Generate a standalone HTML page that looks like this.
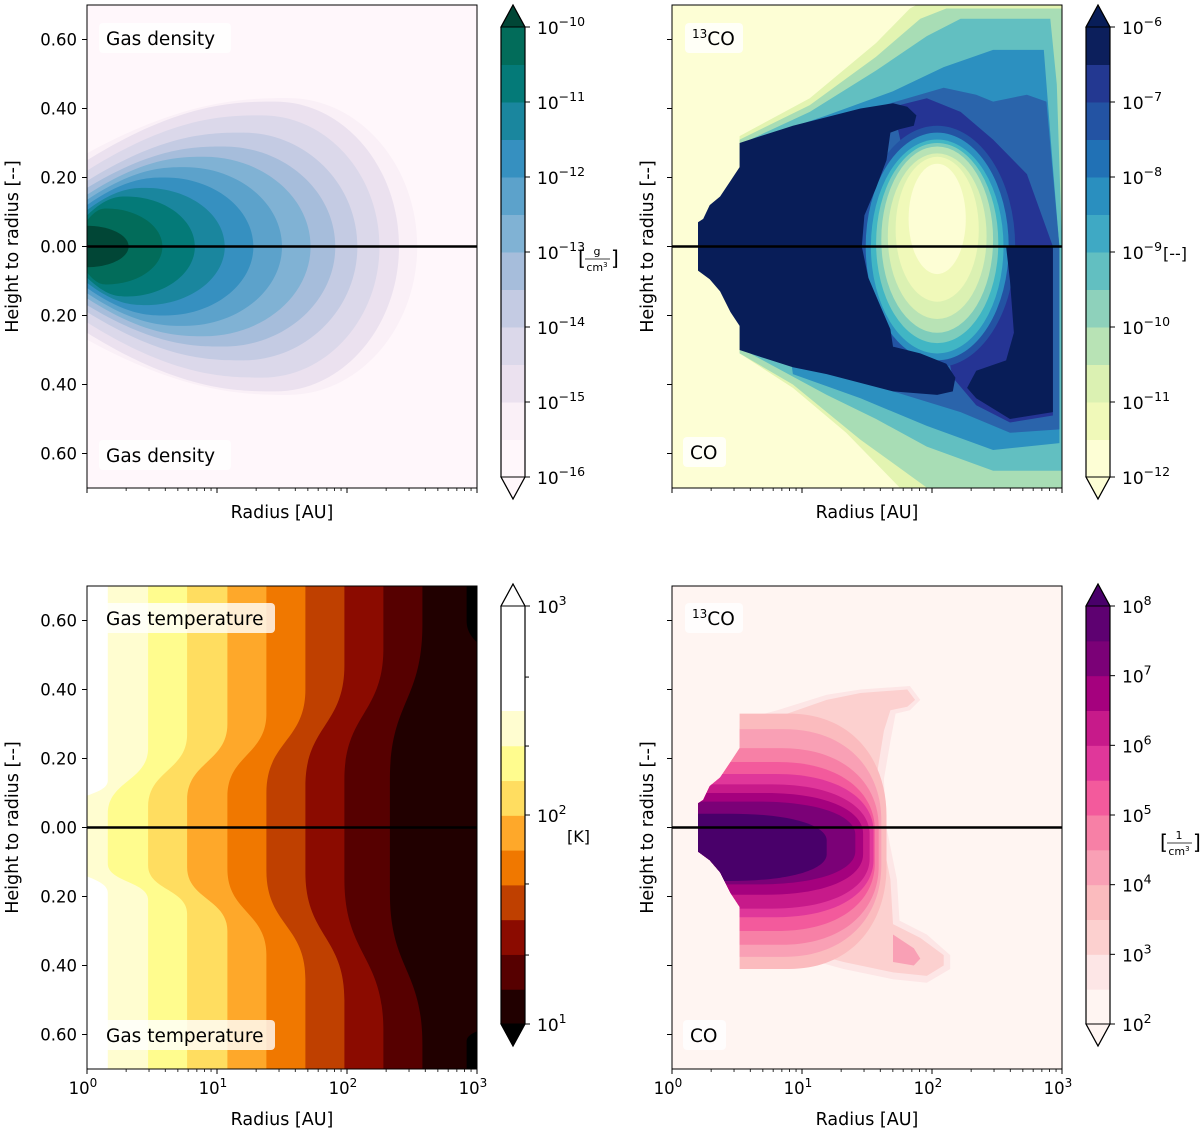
<!DOCTYPE html>
<html><head><meta charset="utf-8">
<style>
html,body{margin:0;padding:0;background:#fff;}
svg{display:block;font-family:"DejaVu Sans","Liberation Sans",sans-serif;}
</style></head>
<body>
<svg id="chart" width="1200" height="1132" viewBox="0 0 1200 1132" xmlns="http://www.w3.org/2000/svg"></svg>
<script>
// ---------- data ----------
const densTip   = [2.54,2.40,2.25,2.08,1.91,1.72,1.50,1.28,1.06,0.83,0.58,0.32];
const densHMax  = [0.43,0.42,0.38,0.33,0.29,0.26,0.23,0.20,0.17,0.145,0.11,0.06];
const densHLeft = [0.27,0.25,0.22,0.19,0.17,0.15,0.135,0.12,0.105,0.09,0.075,0.06];
const densRMax  = [1.55,1.45,1.35,1.20,1.05,0.90,0.75,0.60,0.45,0.30,0.15,0.0];
const densColors = ['#faf0f7','#ebe1ef','#dbd8ea','#c4cbe3','#a6bddb','#80b2d4','#5ca2cb','#3690c0','#1a869e','#047a78','#026c5a','#014636'];
const densCbar = ['#fff7fb','#faf0f7','#ebe1ef','#dbd8ea','#c4cbe3','#a6bddb','#80b2d4','#5ca2cb','#3690c0','#1a869e','#047a78','#026c5a'];
const densTicks = [-16,-15,-14,-13,-12,-11,-10];

const tempTop = [0.16,0.47,0.77,1.08,1.38,1.68,1.98,2.28,2.58,2.92];
const tempMid = [-0.15,0.16,0.47,0.77,1.08,1.38,1.68,1.98,2.33,3.15];
const tempHsTop = [0.136,0.23,0.27,0.30,0.33,0.40,0.47,0.52,0.59,0.60];
const tempHeTop = [0.05,0.04,0.06,0.08,0.09,0.10,0.12,0.14,0.14,0.45];
const tempHsBot = [-0.095,-0.105,-0.11,-0.115,-0.12,-0.125,-0.13,-0.15,-0.19,-0.55];
const tempHeBot = [-0.19,-0.21,-0.25,-0.30,-0.37,-0.44,-0.50,-0.59,-0.63,-0.62];
const tempColors = ['#ffffff','#fffdd0','#fffc8e','#ffdd60','#fea82a','#f07800','#bf4000','#8b0b00','#560000','#210000','#000000'];
const tempTicks = [1,2,3];
const tempMinor = [1.33,1.67,2.33,2.66];

const coShellA = [[0.52,0.32],[1.06,0.43],[1.57,0.59],[1.83,0.69],[1.93,0.71],[3.0,0.71],[3.0,-0.71],[1.78,-0.71],[1.34,-0.54],[0.93,-0.41],[0.52,-0.31]];
const coShellB = [[0.52,0.31],[1.06,0.41],[1.57,0.55],[1.91,0.66],[2.11,0.69],[3.0,0.69],[3.0,-0.71],[2.0,-0.71],[1.45,-0.56],[0.93,-0.40],[0.52,-0.31]];
const coShellC = [[0.60,0.31],[1.06,0.39],[1.57,0.51],[1.96,0.61],[2.22,0.66],[2.91,0.66],[2.96,0.47],[3.0,0],[3.0,-0.65],[2.47,-0.65],[1.96,-0.58],[1.57,-0.50],[1.19,-0.43],[0.60,-0.31]];
const coShellD = [[0.68,0.315],[1.19,0.38],[1.70,0.45],[2.09,0.52],[2.47,0.57],[2.86,0.57],[2.93,0.23],[2.98,0],[2.98,-0.57],[2.47,-0.59],[1.96,-0.52],[1.45,-0.44],[0.93,-0.37]];
const coShellE = [[1.45,0.39],[2.09,0.46],[2.34,0.44],[2.47,0.42],[2.73,0.44],[2.88,0.42],[2.98,0],[2.98,-0.53],[2.60,-0.54],[2.22,-0.48],[1.70,-0.42]];
const coShellF = [[1.70,0.405],[1.96,0.43],[2.22,0.39],[2.47,0.31],[2.73,0.21],[2.93,0],[2.93,-0.49],[2.60,-0.51],[2.34,-0.46],[2.16,-0.38]];
const coShellColors = ['#e3f4b1','#a8ddb5','#62bfc1','#2c90c0','#2a64ab','#253494'];
const coHoleR  = [0.60,0.55,0.51,0.47,0.43,0.38,0.32,0.22];
const coHoleH  = [0.35,0.33,0.31,0.29,0.27,0.24,0.21,0.16];
const coHoleC  = [0.0,0.0,0.0,0.01,0.02,0.03,0.05,0.08];
const coHoleColors = ['#2353a3','#2c90c0','#41b6c4','#7fcdbb','#b8e3b5','#dbf1b2','#f0f9b9','#fdfed5'];
const coCore = [[0.20,0.07],[0.24,0.08],[0.29,0.12],[0.37,0.145],[0.45,0.19],[0.52,0.23],[0.52,0.30],[0.68,0.32],[0.93,0.35],[1.19,0.375],[1.45,0.40],[1.70,0.415],[1.81,0.405],[1.88,0.38],[1.86,0.35],[1.75,0.34],[1.68,0.33],[1.65,0.25],[1.57,0.17],[1.48,0.09],[1.46,0],[1.51,-0.09],[1.60,-0.17],[1.68,-0.24],[1.70,-0.29],[1.91,-0.31],[2.11,-0.34],[2.18,-0.38],[2.16,-0.42],[2.04,-0.43],[1.70,-0.42],[1.19,-0.37],[0.93,-0.35],[0.68,-0.32],[0.52,-0.30],[0.52,-0.23],[0.45,-0.19],[0.37,-0.13],[0.29,-0.095],[0.20,-0.07]];
const coRightCore = [[2.57,0],[2.93,0],[2.93,-0.48],[2.60,-0.50],[2.34,-0.44],[2.27,-0.41],[2.34,-0.36],[2.57,-0.33],[2.63,-0.25],[2.60,-0.10]];
const coCbar = ['#fdfed5','#f0f9b9','#dbf1b2','#b8e3b5','#8ed1bb','#62bfc1','#3fa9c4','#2a8fbf','#2171b5','#2353a3','#233891','#0c1f5c'];
const coTicks = [-12,-11,-10,-9,-8,-7,-6];

const ndPale2 = [[0.52,0.31],[0.81,0.34],[1.19,0.385],[1.45,0.40],[1.83,0.41],[1.91,0.37],[1.83,0.34],[1.72,0.33],[1.68,0.25],[1.63,0.14],[1.65,0],[1.73,-0.15],[1.75,-0.27],[1.96,-0.31],[2.14,-0.37],[2.14,-0.41],[1.96,-0.45],[1.70,-0.44],[1.32,-0.41],[0.93,-0.37],[0.52,-0.31]];
const ndPale3 = [[0.52,0.29],[0.81,0.32],[1.19,0.37],[1.45,0.39],[1.81,0.40],[1.87,0.37],[1.81,0.35],[1.68,0.34],[1.63,0.28],[1.57,0.14],[1.60,0],[1.68,-0.15],[1.70,-0.28],[1.91,-0.32],[2.09,-0.37],[2.09,-0.40],[1.96,-0.43],[1.70,-0.42],[1.32,-0.39],[0.93,-0.35],[0.52,-0.30]];
const ndTail = [[1.70,-0.31],[1.86,-0.35],[1.91,-0.38],[1.86,-0.40],[1.70,-0.39]];
const ndTop   = [0.33,0.285,0.23,0.19,0.155,0.125,0.10,0.075,0.04];
const ndBot   = [-0.41,-0.375,-0.34,-0.30,-0.26,-0.235,-0.195,-0.165,-0.155];
const ndRight = [1.65,1.61,1.59,1.56,1.55,1.52,1.47,1.41,1.19];
const ndColors = ['#fbbbbe','#f9a0b5','#f780a6','#f35a9c','#e0379a','#c71a8a','#a5017e','#7b0177','#49006a'];
const ndClip = [[0.20,0.07],[0.24,0.08],[0.29,0.12],[0.37,0.145],[0.45,0.19],[0.52,0.23],[0.52,0.71],[3,0.71],[3,-0.71],[0.52,-0.71],[0.52,-0.23],[0.45,-0.19],[0.37,-0.13],[0.29,-0.095],[0.20,-0.07]];
const ndCbar = ['#fff5f2','#fde6e6','#fcd0cf','#fbbbbe','#f9a0b5','#f780a6','#f35a9c','#e0379a','#c71a8a','#a5017e','#7b0177','#5e0171'];
const ndTicks = [2,3,4,5,6,7,8];

const yTickVals = [0.6,0.4,0.2,0,-0.2,-0.4,-0.6];
const xTickVals = [0,1,2,3];

// ---------- helpers ----------
const NS='http://www.w3.org/2000/svg';
const svg=document.getElementById('chart');
function mk(tag,attrs,parent){const e=document.createElementNS(NS,tag);for(const k in attrs)e.setAttribute(k,attrs[k]);(parent||svg).appendChild(e);return e;}
function panel(x0,top,bottom){const mid=(top+bottom)/2;const ppu=(bottom-top)/1.4;return {x0,top,bottom,mid,sx:r=>x0+r*130,sy:h=>mid-h*ppu,ppu};}
function polyPath(P,pts){return 'M'+pts.map(p=>P.sx(p[0]).toFixed(1)+','+P.sy(p[1]).toFixed(1)).join('L')+'Z';}

const PTL=panel(87,5,488), PTR=panel(672,5,488), PBL=panel(87,586,1069), PBR=panel(672,586,1069);
let clipN=0;
function group(P,name){
  const id='clip'+(clipN++);
  const cp=mk('clipPath',{id});
  mk('rect',{x:P.x0,y:P.top,width:390,height:P.bottom-P.top},cp);
  const g=mk('g',{'clip-path':'url(#'+id+')'});
  
  
  return g;
}

// ---------- density panel ----------
(function(){
  const P=PTL;const g=group(P,'gas-density-plot');
  const bg=mk('rect',{x:P.x0,y:P.top,width:390,height:P.bottom-P.top,fill:'#fff7fb'},g);
  
  
  densTip.forEach((tip,i)=>{
    const x0=P.sx(0),xm=P.sx(densRMax[i]),xt=P.sx(tip);
    const yT=P.sy(densHMax[i]),yL=P.sy(densHLeft[i]),y0=P.sy(0),yB=P.sy(-densHMax[i]),yLB=P.sy(-densHLeft[i]);
    const d=`M${x0-5},${yL} L${x0},${yL} C${x0+(xm-x0)*0.5},${yT} ${xm-(xm-x0)*0.2},${yT} ${xm},${yT} C${xm+(xt-xm)*0.55},${yT} ${xt},${y0-(y0-yT)*0.55} ${xt},${y0} C${xt},${y0+(yB-y0)*0.55} ${xm+(xt-xm)*0.55},${yB} ${xm},${yB} C${xm-(xm-x0)*0.2},${yB} ${x0+(xm-x0)*0.5},${yB} ${x0},${yLB} L${x0-5},${yLB}Z`;
    const p=mk('path',{d,fill:densColors[i]},g);
    
    
  });
})();

// ---------- temperature panel ----------
(function(){
  const P=PBL;const g=group(P,'gas-temperature-plot');
  const bg=mk('rect',{x:P.x0,y:P.top,width:390,height:P.bottom-P.top,fill:tempColors[0]},g);
  
  
  tempTop.forEach((rt,k)=>{
    const xt=P.sx(rt),xm=P.sx(tempMid[k]);
    const a=P.sy(0.75),b=P.sy(tempHsTop[k]),c=P.sy(tempHeTop[k]),d1=P.sy(tempHsBot[k]),e=P.sy(tempHeBot[k]),f=P.sy(-0.75);
    const mt=(b+c)/2, mb=(d1+e)/2;
    const d=`M${xt},${a} L${xt},${b} C${xt},${mt} ${xm},${mt} ${xm},${c} L${xm},${d1} C${xm},${mb} ${xt},${mb} ${xt},${e} L${xt},${f} L600,${f} L600,${a}Z`;
    const p=mk('path',{d,fill:tempColors[k+1]},g);
    
    
  });
})();

// ---------- CO abundance panel ----------
(function(){
  const P=PTR;const g=group(P,'co-abundance-plot');
  const bg=mk('rect',{x:P.x0,y:P.top,width:390,height:P.bottom-P.top,fill:'#fdfed5'},g);
  
  
  [coShellA,coShellB,coShellC,coShellD,coShellE,coShellF].forEach((s,i)=>{
    const p=mk('path',{d:polyPath(P,s),fill:coShellColors[i],'stroke-linejoin':'round'},g);
    
    
  });
  coHoleR.forEach((rr,i)=>{
    const e=mk('ellipse',{cx:P.sx(2.04),cy:P.sy(coHoleC[i]),rx:rr*130,ry:coHoleH[i]*P.ppu,fill:coHoleColors[i]},g);
    
    
  });
  const c=mk('path',{d:polyPath(P,coCore),fill:'#081d58'},g);
  
  
  const c2=mk('path',{d:polyPath(P,coRightCore),fill:'#081d58'},g);
  
  
})();

// ---------- number density panel ----------
(function(){
  const P=PBR;const g=group(P,'co-number-density-plot');
  const bg=mk('rect',{x:P.x0,y:P.top,width:390,height:P.bottom-P.top,fill:'#fff5f2'},g);
  
  
  const p2=mk('path',{d:polyPath(P,ndPale2),fill:'#fde6e6'},g);
  
  
  const p3=mk('path',{d:polyPath(P,ndPale3),fill:'#fcd0cf'},g);
  
  
  const pt=mk('path',{d:polyPath(P,ndTail),fill:'#f9a0b5'},g);
  
  
  const id='clip'+(clipN++);
  const cp=mk('clipPath',{id});
  mk('path',{d:polyPath(P,ndClip)},cp);
  const g2=mk('g',{'clip-path':'url(#'+id+')'},g);
  
  
  ndTop.forEach((t,i)=>{
    const xl=P.sx(0.1),xr=P.sx(ndRight[i]),yt=P.sy(t),yb=P.sy(ndBot[i]);
    const dx=Math.min(0.75*130,xr-xl-5),dy=(yb-yt)*0.4;
    const d=`M${xl},${yt} L${xr-dx},${yt} C${xr-dx*0.35},${yt} ${xr},${yt+dy*0.45} ${xr},${yt+dy} L${xr},${yb-dy} C${xr},${yb-dy*0.45} ${xr-dx*0.35},${yb} ${xr-dx},${yb} L${xl},${yb}Z`;
    const p=mk('path',{d,fill:ndColors[i]},g2);
    
    
  });
})();

// ---------- axes, midplane, labels ----------
function axes(P,showYLabels,showXLabels,name){
  const mid=mk('line',{x1:P.x0,x2:P.x0+390,y1:P.sy(0),y2:P.sy(0),stroke:'#000','stroke-width':2.5});
  
  
  const fr=mk('rect',{x:P.x0,y:P.top,width:390,height:P.bottom-P.top,fill:'none',stroke:'#000','stroke-width':1});
  
  
  yTickVals.forEach(v=>{
    const y=P.sy(v);
    const t=mk('line',{x1:P.x0-5,x2:P.x0,y1:y,y2:y,stroke:'#000','stroke-width':1});
    
    
    if(showYLabels){
      const tx=mk('text',{x:P.x0-10,y:y+6,'text-anchor':'end','font-size':16.5});
      tx.textContent=Math.abs(v).toFixed(2);
      
      
    }
  });
  for(let dec=0;dec<3;dec++){for(let m=2;m<=9;m++){
    const x=P.sx(dec+Math.log10(m));
    const t=mk('line',{x1:x,x2:x,y1:P.bottom,y2:P.bottom+3,stroke:'#000','stroke-width':0.8});
    
    
  }}
  xTickVals.forEach(v=>{
    const x=P.sx(v);
    const t=mk('line',{x1:x,x2:x,y1:P.bottom,y2:P.bottom+5,stroke:'#000','stroke-width':1});
    
    
    if(showXLabels){
      const tx=mk('text',{x:x-4,y:P.bottom+25,'text-anchor':'middle','font-size':16.5});
      tx.innerHTML='10<tspan dy="-7" font-size="12">'+v+'</tspan>';
      
      
    }
  });
  const xl=mk('text',{x:P.x0+195,y:P.bottom+30,'text-anchor':'middle','font-size':17.5});
  xl.textContent='Radius [AU]';
  
  
  if(showXLabels){xl.setAttribute('y',P.bottom+56);}
  const yx=P.x0-(showYLabels?69:19);
  const yl=mk('text',{x:yx,y:P.sy(0),'text-anchor':'middle','font-size':17.5,transform:`rotate(-90 ${yx} ${P.sy(0)})`});
  yl.textContent='Height to radius [--]';
  
  
}
axes(PTL,true,false,'density');
axes(PTR,false,false,'co');
axes(PBL,true,true,'temperature');
axes(PBR,false,true,'nd');

function label(x,y,w,html,name){
  const r=mk('rect',{x,y,width:w,height:30,rx:4,fill:'#fff','fill-opacity':0.8});
  
  
  const t=mk('text',{x:x+7,y:y+22,'font-size':18.5});
  t.innerHTML=html;
  
  
}
label(99,23,132,'Gas density','label-gas-density-top');
label(99,440,132,'Gas density','label-gas-density-bottom');
label(99,603,176,'Gas temperature','label-gas-temperature-top');
label(99,1020,176,'Gas temperature','label-gas-temperature-bottom');
label(685,23,58,'<tspan font-size="12" dy="-7">13</tspan><tspan dy="7">CO</tspan>','label-13co-top');
label(683,437,43,'CO','label-co-bottom');
label(685,603,58,'<tspan font-size="12" dy="-7">13</tspan><tspan dy="7">CO</tspan>','label-13co-nd');
label(683,1020,43,'CO','label-co-nd');

// ---------- colorbars ----------
function colorbar(x,top,bot,colors,triTop,triBot,ticks,minor,name){
  const n=colors.length,bh=(bot-top)/Math.max(n,1),w=24,tri=22;
  colors.forEach((c,i)=>{
    const r=mk('rect',{x,y:bot-(i+1)*bh,width:w,height:bh+0.5,fill:c});
    
    
  });
  const tt=mk('path',{d:`M${x},${top} L${x+w/2},${top-tri} L${x+w},${top}Z`,fill:triTop,stroke:'#000','stroke-width':1});
  
  
  const tb=mk('path',{d:`M${x},${bot} L${x+w/2},${bot+tri} L${x+w},${bot}Z`,fill:triBot,stroke:'#000','stroke-width':1});
  
  
  const fr=mk('path',{d:`M${x},${top} L${x+w/2},${top-tri} L${x+w},${top} L${x+w},${bot} L${x+w/2},${bot+tri} L${x},${bot}Z`,fill:'none',stroke:'#000','stroke-width':1.2});
  
  
  const lo=ticks[0],hi=ticks[ticks.length-1];
  const ys=v=>bot-(v-lo)/(hi-lo)*(bot-top);
  ticks.forEach(v=>{
    const y=ys(v);
    const t=mk('line',{x1:x+w,x2:x+w+5,y1:y,y2:y,stroke:'#000','stroke-width':1});
    
    
    const tx=mk('text',{x:x+w+12,y:y+7,'font-size':17});
    tx.innerHTML='10<tspan dy="-8" font-size="12.5">'+(v<0?'\u2212'+(-v):v)+'</tspan>';
    
    
  });
  minor.forEach(v=>{
    const y=ys(v);
    const t=mk('line',{x1:x+w,x2:x+w+4,y1:y,y2:y,stroke:'#000','stroke-width':1});
    
    
  });
}
colorbar(501,27,477,densCbar,'#014636','#fff7fb',densTicks,[],'density-colorbar');
colorbar(1086,27,477,coCbar,'#081d58','#fdfed5',coTicks,[],'co-colorbar');
(function(){
  const x=501,top=606;
  const wh=mk('rect',{x,y:top,width:24,height:105,fill:'#ffffff'});
  
  
  const colors=tempColors.slice(1,10).reverse();
  const t2=711,bot=1024,bh=(bot-t2)/colors.length;
  colors.forEach((c,i)=>{
    const r=mk('rect',{x,y:bot-(i+1)*bh,width:24,height:bh+0.5,fill:c});
    
    
  });
})();
colorbar(501,606,1024,[],'#ffffff','#000000',tempTicks,tempMinor,'temperature-colorbar');
colorbar(1086,606,1024,ndCbar,'#49006a','#fff5f2',ndTicks,[],'nd-colorbar');

function unit(x,y,html,name){const t=mk('text',{x,y,'font-size':16});t.innerHTML=html;return t;}
function frac(x,y,num,den,name){
  const g=mk('g',{});
  
  
  mk('text',{x:x,y:y+7,'font-size':20},g).textContent='[';
  const n=mk('text',{x:x+19,y:y-3,'font-size':11,'text-anchor':'middle'},g);n.textContent=num;
  mk('line',{x1:x+7,x2:x+32,y1:y+1,y2:y+1,stroke:'#000','stroke-width':0.8},g);
  const d=mk('text',{x:x+19,y:y+13,'font-size':11,'text-anchor':'middle'},g);d.innerHTML=den;
  mk('text',{x:x+33,y:y+7,'font-size':20},g).textContent=']';
}
frac(578,258,'g','cm<tspan font-size="7" dy="-4">3</tspan>','density-unit');
unit(1163,259,'[--]','co-unit');
unit(567,842,'[K]','temperature-unit');
frac(1160,842,'1','cm<tspan font-size="7" dy="-4">3</tspan>','nd-unit');
</script>
</body></html>
